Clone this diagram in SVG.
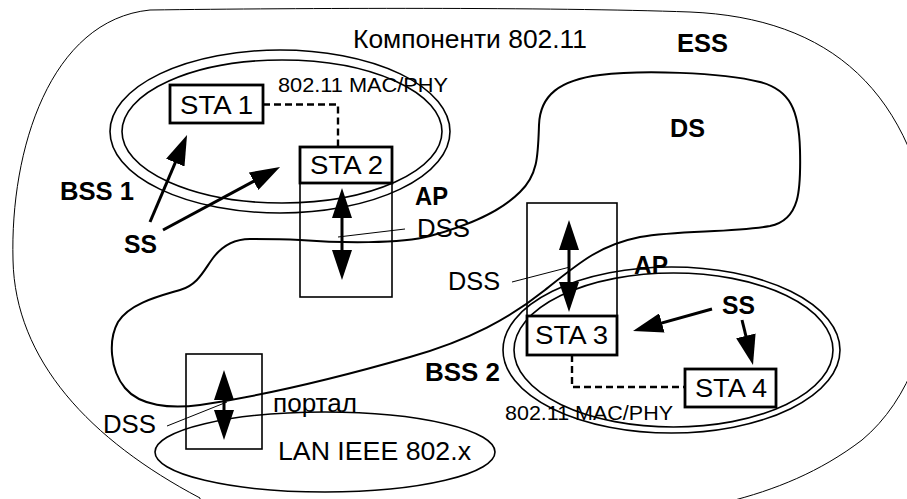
<svg xmlns="http://www.w3.org/2000/svg" width="907" height="499" viewBox="0 0 907 499">
<style>
text{font-family:"Liberation Sans",Arial,sans-serif;fill:#000}
.r{font-size:26px}
.b{font-size:25px;font-weight:bold}
.s{font-size:20px}
.sta{fill:#fff;stroke:#000;stroke-width:2.8}
.box{fill:none;stroke:#000;stroke-width:1.6}
.ell{fill:none;stroke:#000;stroke-width:1.6}
.arr{stroke:#000;stroke-width:3;fill:none;marker-end:url(#ah)}
.dbl{stroke:#000;stroke-width:3;fill:none;marker-end:url(#ah);marker-start:url(#ah)}
.dash{stroke:#000;stroke-width:2.4;fill:none;stroke-dasharray:7 4}
.lead{stroke:#000;stroke-width:1;fill:none}
</style>
<defs>
<marker id="ah" markerUnits="userSpaceOnUse" markerWidth="30" markerHeight="20" refX="22" refY="10" orient="auto-start-reverse" viewBox="0 0 30 20"><path d="M0,0 L30,10 L0,20 z" fill="#000"/></marker>
</defs>
<rect width="907" height="499" fill="#fff"/>
<g id="ess">
<path d="M150,10 C300,8 550,7 690,12 C830,18 915,90 935,250 C935,330 910,400 862,440 C820,472 775,490 727,502 L727,520 L200,520 L200,498 C90,440 15,360 13,260 C10,150 50,20 150,10 Z" fill="none" stroke="#000" stroke-width="1"/>
<text class="r" x="353" y="48" textLength="234" lengthAdjust="spacingAndGlyphs">Компоненти 802.11</text>
<text class="b" x="677" y="52" textLength="51" lengthAdjust="spacingAndGlyphs">ESS</text>
</g>
<g id="ds">
<path d="M250,239 C235,239 222,246 213,258 C204,270 198,285 180,290 C160,296 130,303 118,322 C108,340 110,370 125,388 C140,406 170,409 200,405 C260,396 330,380 410,357 C470,340 510,318 545,290 C580,262 600,245 640,237 C680,230 730,233 770,226 C800,220 801,190 800,150 C799,110 790,90 760,82 C720,72 640,70 600,75 C560,80 540,95 539,125 C538,155 538,175 520,192 C500,212 470,225 430,236 C400,244 340,243 300,240 C280,239 262,239 250,239 Z" fill="none" stroke="#000" stroke-width="2"/>
<text class="b" x="670" y="137" textLength="35" lengthAdjust="spacingAndGlyphs">DS</text>
</g>
<g id="bss1">
<ellipse class="ell" cx="280" cy="131.5" rx="170" ry="81.5"/>
<ellipse class="ell" cx="282" cy="131.5" rx="160" ry="71.5"/>
<text class="b" x="60" y="200" textLength="74" lengthAdjust="spacingAndGlyphs">BSS 1</text>
<text class="s" x="278" y="92" textLength="170" lengthAdjust="spacingAndGlyphs">802.11 MAC/PHY</text>
</g>
<g id="bss2">
<ellipse class="ell" cx="671.5" cy="350" rx="168.5" ry="83"/>
<ellipse class="ell" cx="673.5" cy="350" rx="159.5" ry="77"/>
<text class="b" x="425" y="381" textLength="75" lengthAdjust="spacingAndGlyphs">BSS 2</text>
<text class="s" x="505" y="420" textLength="168" lengthAdjust="spacingAndGlyphs">802.11 MAC/PHY</text>
</g>
<g id="lan">
<ellipse class="ell" cx="325" cy="452" rx="170" ry="40"/>
<text class="r" x="278" y="460" textLength="193" lengthAdjust="spacingAndGlyphs">LAN IEEE 802.x</text>
</g>
<g id="ap1">
<rect class="box" x="300" y="183" width="92" height="114"/>
<text class="b" x="415" y="205" textLength="33" lengthAdjust="spacingAndGlyphs">AP</text>
<text class="r" x="417" y="237" textLength="53" lengthAdjust="spacingAndGlyphs">DSS</text>
</g>
<g id="ap2">
<rect class="box" x="527" y="203" width="90" height="113"/>
<text class="b" x="634" y="274" textLength="34" lengthAdjust="spacingAndGlyphs">AP</text>
<text class="r" x="448" y="290" textLength="52" lengthAdjust="spacingAndGlyphs">DSS</text>
</g>
<g id="portal">
<rect class="box" x="186" y="354" width="76" height="95"/>
<text class="r" x="273" y="412" textLength="84" lengthAdjust="spacingAndGlyphs">портал</text>
<text class="r" x="103" y="433" textLength="53" lengthAdjust="spacingAndGlyphs">DSS</text>
</g>
<g id="ss1">
<text class="b" x="124" y="253" textLength="33" lengthAdjust="spacingAndGlyphs">SS</text>
</g>
<g id="ss2">
<text class="b" x="722" y="314" textLength="33" lengthAdjust="spacingAndGlyphs">SS</text>
</g>
<g id="connectors">
<path class="dash" d="M263,104.5 H338 V147"/>
<path class="dash" d="M572,355 V387 H685"/>
<line class="arr" x1="150" y1="222" x2="183.9" y2="142.4"/>
<line class="arr" x1="163" y1="230" x2="273" y2="170.8"/>
<line class="arr" x1="712" y1="309" x2="640.7" y2="328.9"/>
<line class="arr" x1="742" y1="320" x2="751.1" y2="357.2"/>
<line class="dbl" x1="342" y1="196" x2="342" y2="272"/>
<line class="dbl" x1="569" y1="228" x2="569" y2="304"/>
<line class="dbl" x1="224" y1="378" x2="224" y2="432"/>
<line class="lead" x1="405" y1="229" x2="338" y2="237"/>
<line class="lead" x1="512" y1="282" x2="570" y2="267"/>
<line class="lead" x1="167" y1="426" x2="227" y2="402"/>
</g>
<g id="sta1">
<rect class="sta" x="170" y="85" width="93" height="38"/>
<text class="r" x="180" y="114" textLength="73" lengthAdjust="spacingAndGlyphs">STA 1</text>
</g>
<g id="sta2">
<rect class="sta" x="300" y="147" width="92" height="36"/>
<text class="r" x="310" y="174" textLength="73" lengthAdjust="spacingAndGlyphs">STA 2</text>
</g>
<g id="sta3">
<rect class="sta" x="527" y="316" width="90" height="39"/>
<text class="r" x="535" y="344" textLength="73" lengthAdjust="spacingAndGlyphs">STA 3</text>
</g>
<g id="sta4">
<rect class="sta" x="685" y="369" width="91" height="38"/>
<text class="r" x="695" y="397" textLength="72" lengthAdjust="spacingAndGlyphs">STA 4</text>
</g>
</svg>
